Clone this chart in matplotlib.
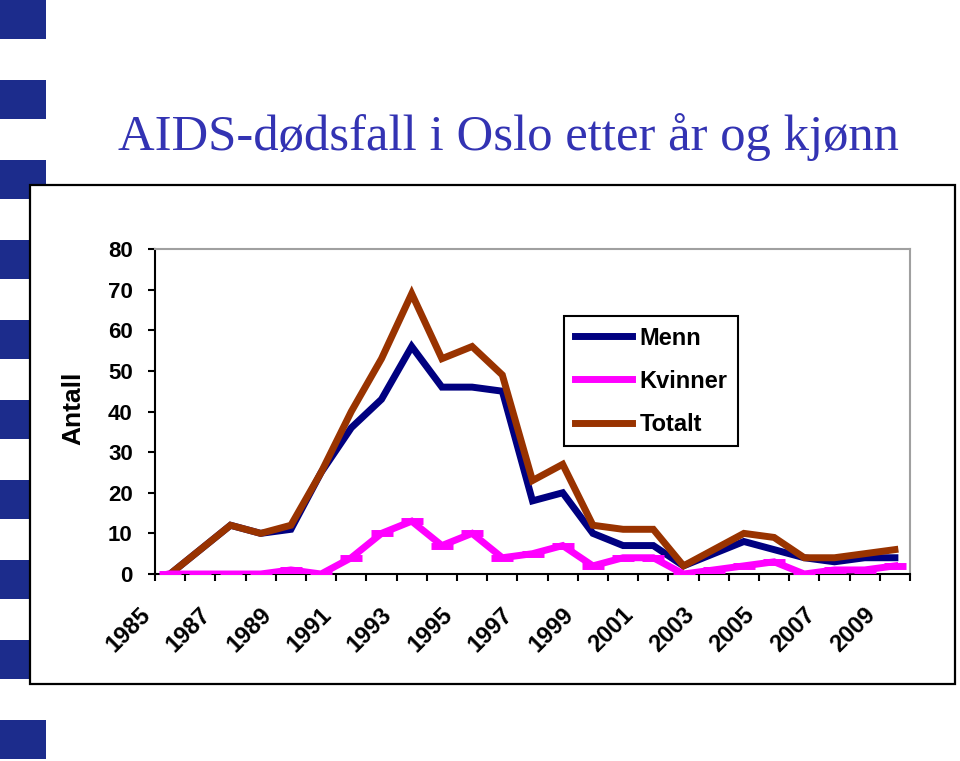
import numpy as np
import matplotlib
matplotlib.use('Agg')
import matplotlib.pyplot as plt
from matplotlib.patches import Rectangle

# data
years = list(range(1985, 2010))
menn = [0, 6, 12, 10, 11, 25, 36, 43, 56, 46, 46, 45, 18, 20, 10, 7, 7, 2, 5, 8, 6, 4, 3, 4, 4]
kvinner = [0, 0, 0, 0, 1, 0, 4, 10, 13, 7, 10, 4, 5, 7, 2, 4, 4, 0, 1, 2, 3, 0, 1, 1, 2]
totalt = [0, 6, 12, 10, 12, 25, 40, 53, 69, 53, 56, 49, 23, 27, 12, 11, 11, 2, 6, 10, 9, 4, 4, 5, 6]
yticks = [0, 10, 20, 30, 40, 50, 60, 70, 80]

W, H = 960, 761
fig = plt.figure(figsize=(W / 100, H / 100), dpi=100)
fig.patch.set_facecolor('white')

def px_rect(x, y, w, h, **kw):
    # rectangle in pixel coords (y from top)
    return Rectangle((x / W, 1 - (y + h) / H), w / W, h / H, transform=fig.transFigure, **kw)

# blue squares down the left side
for k in range(10):
    fig.add_artist(px_rect(0, 80 * k, 46, 39, facecolor='#1C2C8C', edgecolor='none', zorder=0))

# chart frame
fig.add_artist(px_rect(30, 185, 925, 499, facecolor='white', edgecolor='black', linewidth=1.6, zorder=1))

fig.text(508 / W, 1 - 150 / H, 'AIDS-dødsfall i Oslo etter år og kjønn', ha='center', va='baseline',
         fontsize=36.5, family='Liberation Serif', color='#3333B3')

ax = fig.add_axes([155 / W, 1 - 574 / H, 755 / W, 325 / H])
ax.set_zorder(5)
ax.patch.set_alpha(0)

x = np.arange(len(years))
ax.plot(x, menn, color='#000080', lw=5, label='Menn', zorder=2, solid_joinstyle='miter')
ax.plot(x, totalt, color='#993300', lw=5, label='Totalt', zorder=3, solid_joinstyle='miter')
ax.plot(x, kvinner, color='#FF00FF', lw=5, label='Kvinner', zorder=4, solid_joinstyle='miter',
        marker='_', markersize=16, markeredgewidth=5)

ax.set_xlim(-0.5, len(years) - 0.5)
ax.set_ylim(0, 80)

bounds = np.arange(len(years) + 1) - 0.5
blabels = [str(years[k]) if (k < len(years) and k % 2 == 0) else '' for k in range(len(bounds))]
ax.set_xticks(bounds)
ax.set_xticklabels(blabels, rotation=45, ha='right', va='top', fontsize=17,
                   family='Liberation Sans', fontweight='bold')
ax.set_yticks(yticks)
ax.set_yticklabels([str(v) for v in yticks], fontsize=16, family='Liberation Sans', fontweight='bold')
ax.tick_params(axis='x', direction='out', length=5, width=1.5, pad=16)
ax.tick_params(axis='y', direction='out', length=5, width=1.5, pad=11)

for s in ['left', 'bottom']:
    ax.spines[s].set_color('black')
    ax.spines[s].set_linewidth(1.5)
for s in ['top', 'right']:
    ax.spines[s].set_color('#A0A0A0')
    ax.spines[s].set_linewidth(1.5)

fig.text(73 / W, 1 - 408 / H, 'Antall', rotation=90, ha='center', va='center',
         fontsize=19, family='Liberation Sans', fontweight='bold')

# legend order as on the slide
h, l = ax.get_legend_handles_labels()
order = [0, 2, 1]
leg = fig.legend([h[i] for i in order], [l[i] for i in order], loc='upper left',
                 bbox_to_anchor=(564 / W, 1 - 316 / H), borderaxespad=0, fancybox=False, framealpha=1,
                 prop={'family': 'Liberation Sans', 'weight': 'bold', 'size': 17},
                 handlelength=2.45, labelspacing=0.85, borderpad=0.45, handletextpad=0.3)
leg.get_frame().set_edgecolor('black')
leg.get_frame().set_linewidth(1.5)
leg.set_zorder(10)
for lh in leg.get_lines():
    lh.set_marker('')

fig.savefig('out.png', dpi=100)
